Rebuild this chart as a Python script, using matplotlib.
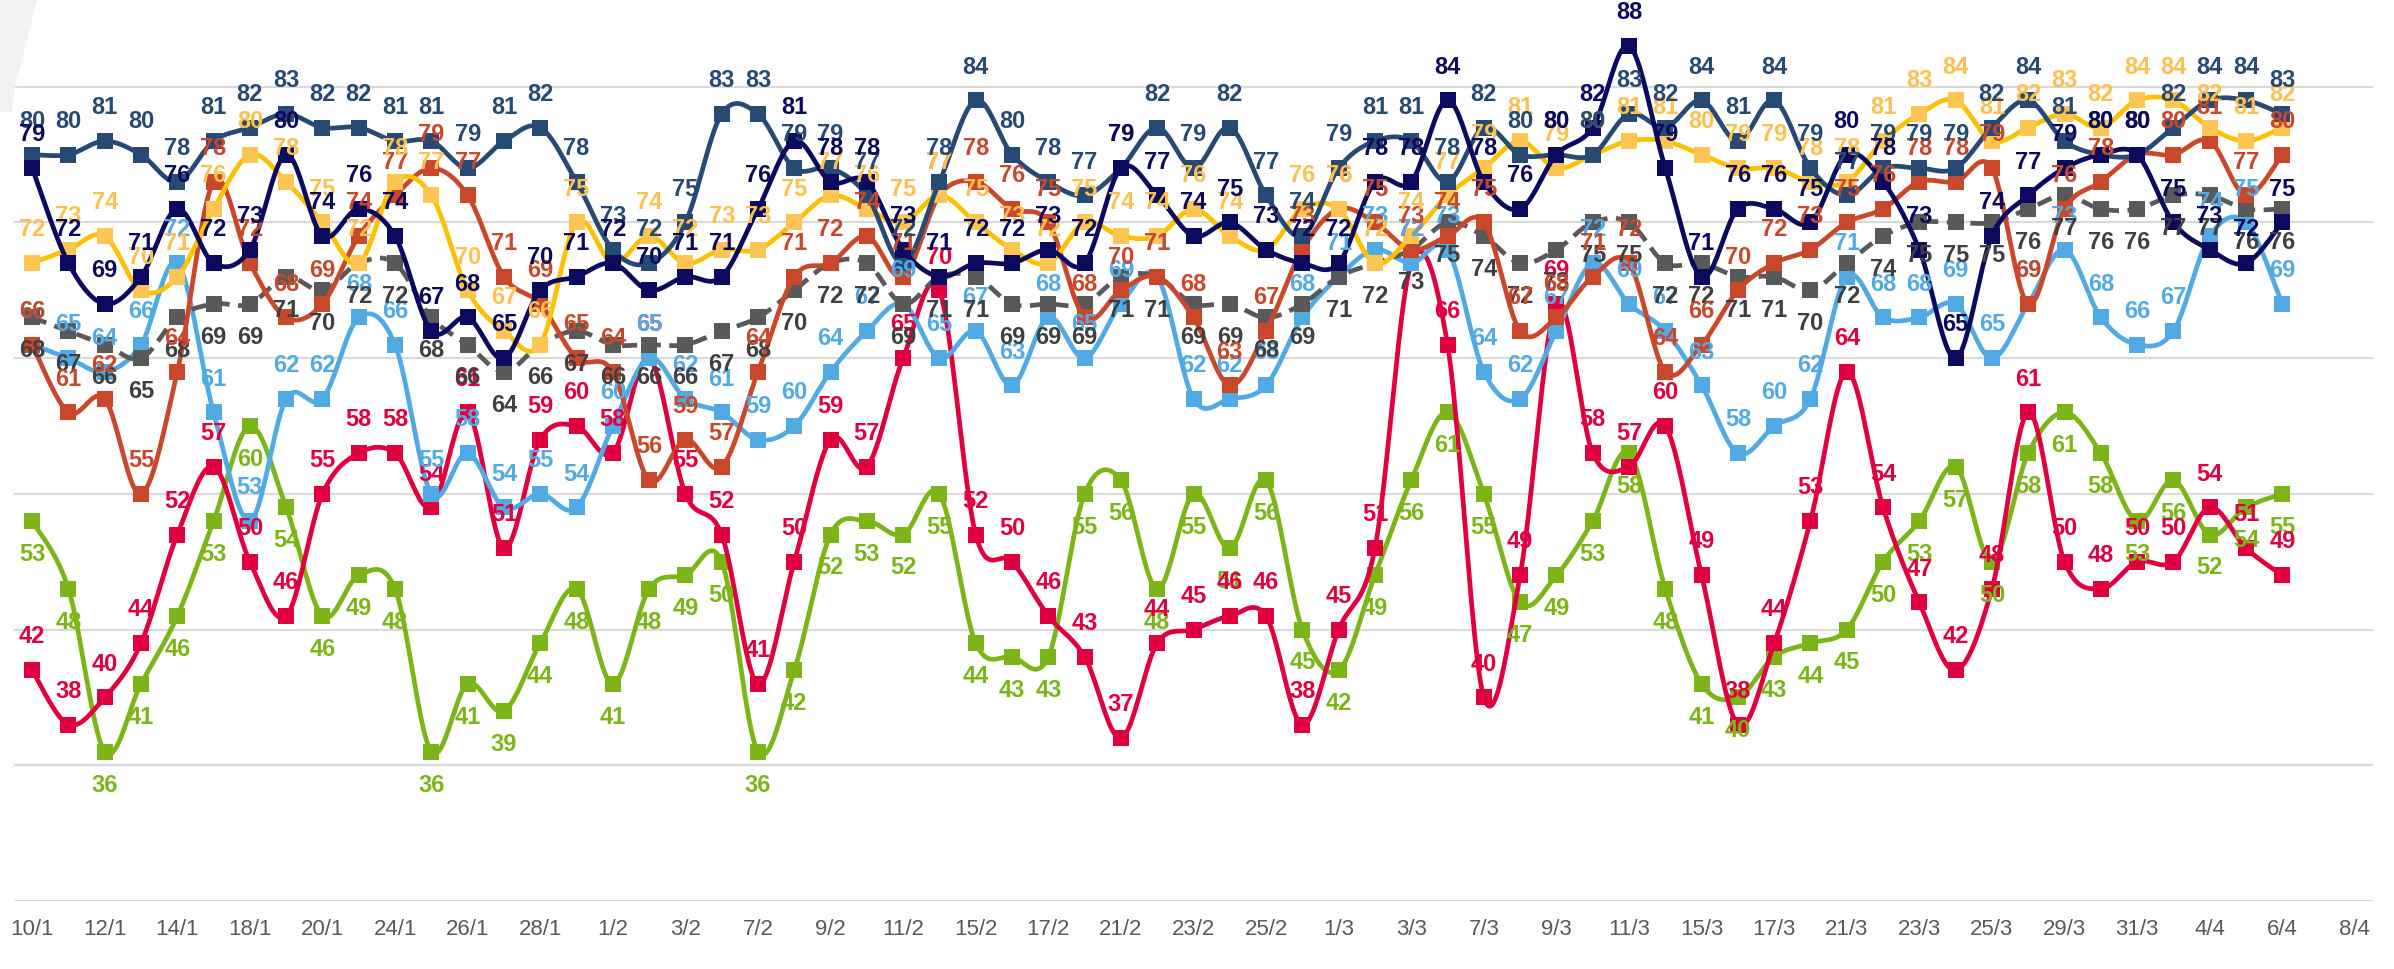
import numpy as np
import matplotlib
matplotlib.use('Agg')
import matplotlib.pyplot as plt
from matplotlib.patches import Polygon

"""
data
"""
date_labels = ['10/1', '12/1', '14/1', '18/1', '20/1', '24/1', '26/1', '28/1', '1/2',
               '3/2', '7/2', '9/2', '11/2', '15/2', '17/2', '21/2', '23/2', '25/2',
               '1/3', '3/3', '7/3', '9/3', '11/3', '15/3', '17/3', '21/3', '23/3',
               '25/3', '29/3', '31/3', '4/4', '6/4', '8/4']
n_cats = 65

steel = [80,80,81,80,78,81,82,83,82,82, 81,81,79,81,82,78,73,72,75,83,
         83,79,79,77,72,78,84,80,78,77, 79,82,79,82,77,74,79,81,81,78,
         82,80,80,80,83,82,84,81,84,79, 77,79,79,79,82,84,81,80,80,82,
         84,84,83]
navy = [79,72,69,71,76,72,73,80,74,76, 74,67,68,65,70,71,72,70,71,71,
        76,81,78,78,73,71,72,72,73,72, 79,77,74,75,73,72,72,78,78,84,
        78,76,80,82,88,79,71,76,76,75, 80,78,73,65,74,77,79,80,80,75,
        73,72,75]
yellow = [72,73,74,70,71,76,80,78,75,72, 78,77,70,67,66,75,72,74,72,73,
          73,75,77,76,75,77,75,73,72,75, 74,74,76,74,73,76,76,72,74,77,
          79,81,79,80,81,81,80,79,79,78, 78,81,83,84,81,82,83,82,84,84,
          82,81,82]
rust = [66,61,62,55,64,78,72,68,69,74, 77,79,77,71,69,65,64,56,59,57,
        64,71,72,74,71,77,78,76,75,68, 70,71,68,63,67,73,76,75,73,74,
        75,67,68,71,72,64,66,70,72,73, 75,76,78,78,79,69,76,78,80,80,
        81,77,80]
grey = [68,67,66,65,68,69,69,71,70,72, 72,68,66,64,66,67,66,66,66,67,
        68,70,72,72,69,71,71,69,69,69, 71,71,69,69,68,69,71,72,73,75,
        74,72,73,75,75,72,72,71,71,70, 72,74,75,75,75,76,77,76,76,77,
        77,76,76]
lightblue = [66,65,64,66,72,61,53,62,62,68, 66,55,58,54,55,54,60,65,62,61,
             59,60,64,67,69,65,67,63,68,65, 69,71,62,62,63,68,71,73,72,73,
             64,62,67,72,69,67,63,58,60,62, 71,68,68,69,65,69,73,68,66,67,
             74,75,69]
red = [42,38,40,44,52,57,50,46,55,58, 58,54,61,51,59,60,58,65,55,52,
       41,50,59,57,65,70,52,50,46,43, 37,44,45,46,46,38,45,51,72,66,
       40,49,69,58,57,60,49,38,44,53, 64,54,47,42,48,61,50,48,50,50,
       54,51,49]
green = [53,48,36,41,46,53,60,54,46,49, 48,36,41,39,44,48,41,48,49,50,
         36,42,52,53,52,55,44,43,43,55, 56,48,55,51,56,45,42,49,56,61,
         55,47,49,53,58,48,41,40,43,44, 45,50,53,57,50,58,61,58,53,56,
         52,54,55]

# (values, line colour, marker colour, label colour, dashed, label below)
series = [
    (green, '#7cb518', '#7cb518', '#7cb518', False, True),
    (red, '#e1003f', '#e1003f', '#e1003f', False, False),
    (lightblue, '#52aae4', '#52aae4', '#52aae4', False, False),
    (grey, '#595959', '#595959', '#404040', True, True),
    (rust, '#c9482b', '#c9482b', '#c9482b', False, False),
    (yellow, '#ffc000', '#fec553', '#fec04f', False, False),
    (steel, '#264a73', '#264a73', '#264a73', False, False),
    (navy, '#0c0a5e', '#0c0a5e', '#0c0a5e', False, False),
]


def smooth(x, y, n=24):
    # bezier through the points, like a spreadsheet "smoothed line"
    pts = np.column_stack([x, y]).astype(float)
    P = np.vstack([pts[0], pts, pts[-1]])
    out = []
    t = np.linspace(0, 1, n)[:, None]
    for i in range(len(pts) - 1):
        p0, p1, p2, p3 = P[i], P[i + 1], P[i + 2], P[i + 3]
        c1 = p1 + (p2 - p0) / 6
        c2 = p2 - (p3 - p1) / 6
        seg = (1 - t)**3 * p1 + 3 * (1 - t)**2 * t * c1 + 3 * (1 - t) * t**2 * c2 + t**3 * p2
        out.append(seg if i == 0 else seg[1:])
    return np.vstack(out)


plt.rcParams['font.family'] = ['Liberation Sans', 'DejaVu Sans']

fig = plt.figure(figsize=(23.94, 9.69), dpi=100)
ax = fig.add_axes([14 / 2394, 68 / 969, (2373 - 14) / 2394, 901 / 969])

# light decoration in the top-left corner
fig.patches.append(Polygon([(0, 1), (37 / 2394, 1), (15 / 2394, 1 - 87 / 969),
                            (12 / 2394, 1 - 112 / 969), (0, 1 - 112 / 969)],
                           closed=True, transform=fig.transFigure,
                           facecolor='#f2f2f2', edgecolor='none', zorder=0))

for yv in range(25, 90, 10):
    ax.axhline(yv, color='#d9d9d9', lw=1.6, zorder=0)

for k, (vals, lc, mc, tc, dashed, below) in enumerate(series):
    x = np.arange(len(vals))
    curve = smooth(x, vals)
    ls = (0, (3.2, 1.8)) if dashed else '-'
    ax.plot(curve[:, 0], curve[:, 1], color=lc, lw=3.4, ls=ls,
            solid_capstyle='round', zorder=2 + k * 0.1)
    ax.plot(x, vals, ls='none', marker='s', ms=11, mfc=mc, mec=mc, mew=0,
            zorder=2.05 + k * 0.1)

for vals, lc, mc, tc, dashed, below in series:
    off = -24 if below else 24
    for i, v in enumerate(vals):
        ax.annotate(str(v), (i, v), xytext=(0, off), textcoords='offset points',
                    ha='center', va='center', fontsize=17, fontweight='bold',
                    color=tc, zorder=5, annotation_clip=False)

ax.set_xlim(-0.5, n_cats - 0.5)
ax.set_ylim(25, 25 + 901 / 13.57)
ax.set_xticks(range(0, n_cats, 2))
ax.set_xticklabels(date_labels, fontsize=16, color='#595959')
ax.tick_params(axis='x', length=0, pad=13)
ax.set_yticks([])
for s in ax.spines.values():
    s.set_visible(False)

fig.savefig('out.png', dpi=100)
